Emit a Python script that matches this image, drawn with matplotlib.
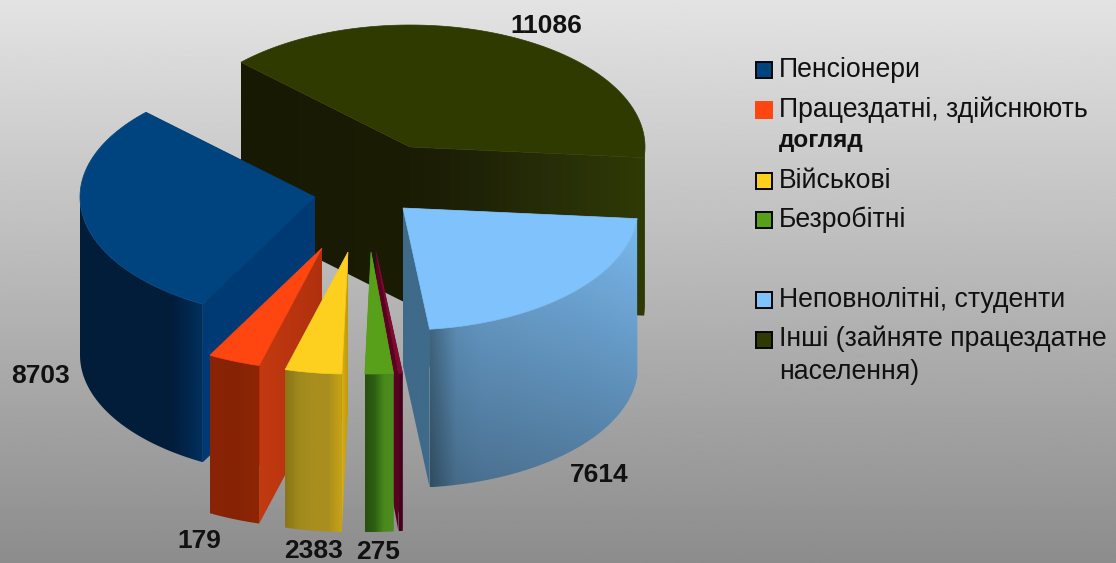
import numpy as np
import matplotlib
matplotlib.use('Agg')
import matplotlib.pyplot as plt
from matplotlib.colors import to_rgb
from matplotlib.patches import Polygon, Rectangle

plt.rcParams['font.family'] = ['Liberation Sans', 'DejaVu Sans']

# chart values
slice_names = ['Пенсіонери', 'Працездатні, здійснюють догляд', 'Військові', 'Безробітні',
               '', 'Неповнолітні, студенти', 'Інші (зайняте працездатне населення)']
slice_sizes = [105.5, 13, 14, 7, 1, 78.5, 141]  # degrees as seen in the picture
value_labels = ['8703', '179', '2383', '275', '', '7614', '11086']

# look of each slice
top_colors = ['#00447f', '#ff4510', '#fdd01f', '#58a01a', '#7e0a30', '#80c2fc', '#2f3a00']
wall_colors = [
    ['#011d3a'] * 7 + ['#01264c', '#00305e'],
    ['#8a2405', '#862305', '#8e2606'],
    ['#8a7418', '#a08a1e', '#a88e1f', '#a88e1e', '#c9a314'],
    ['#27500f', '#2f5f12', '#4a8a1c', '#4e8c20'],
    ['#45001a', '#45001a'],
    ['#4a7594', '#6aa2cf', '#70aadb', '#72acdc', '#74afe0', '#75b1e3', '#76b3e6', '#78b6ea', '#7ab9ee'],
    ['#2f3a00', '#2f3a00'],
]
start_cut_colors = [
    ['#1a1c04', '#1a1c04'],
    ['#8a2405', '#8a2405'],
    ['#8f7a1c', '#8f7a1c'],
    ['#3a6c16', '#3a6c16'],
    ['#48001c', '#5a0022'],
    ['#3f6a8a', '#3f6a8a'],
    ['#1a1c04', '#1e2206', '#252a07', '#2a3207', '#2f3a05'],
]
end_cut_colors = [
    ['#003a75', '#003a75'],
    ['#c23a10', '#b0300e'],
    ['#d8ae12', '#b8960f'],
    ['#4e8c20', '#4e8c20'],
    ['#5a0022', '#5a0022'],
    ['#3f6a8a', '#3f6a8a'],
    ['#171903', '#1a1c04'],
]
wall_shade = [(1, 1), (1, 1), (1, 1), (1, 1), (1, 1), (1.0, 0.66), (1, 1)]

# layout in picture pixels
apex_x = [315, 322, 348, 371, 376, 403, 410]
apex_y = [197, 248, 252, 252, 252, 208, 147]
rx, ry = 235, 122
depth = 158
first_angle = 136
draw_order = [6, 0, 5, 4, 3, 1, 2]

label_x = [41, 199, 314, 378, 0, 599, 546]
label_y = [376, 541, 551, 552, 0, 475, 26]

legend_text = ['Пенсіонери', 'Працездатні, здійснюють', 'догляд', 'Військові', 'Безробітні',
               'Неповнолітні, студенти', 'Інші (зайняте працездатне', 'населення)']
legend_text_y = [70, 110, 141, 181, 220, 300, 339, 372]
legend_box_slice = [0, 1, 2, 3, 5, 6]
legend_box_y = [70, 110, 181, 220, 300, 340]


def gradient_fill(ax, verts, colors, shade=(1, 1)):
    verts = np.array(verts)
    x0, x1 = verts[:, 0].min(), verts[:, 0].max()
    y0, y1 = verts[:, 1].min(), verts[:, 1].max()
    if x1 - x0 < 0.5:
        return
    rgb = np.array([to_rgb(c) for c in colors])
    t = np.linspace(0, 1, 128)
    stops = np.linspace(0, 1, len(colors))
    row = np.stack([np.interp(t, stops, rgb[:, i]) for i in range(3)], axis=1)
    img = np.repeat(row[np.newaxis, :, :], 64, axis=0)
    img = img * np.linspace(shade[0], shade[1], 64)[:, np.newaxis, np.newaxis]
    im = ax.imshow(np.clip(img, 0, 1), extent=(x0, x1, y1, y0), aspect='auto',
                   interpolation='bilinear', zorder=2)
    im.set_clip_path(Polygon(verts, transform=ax.transData))


def arc(i, a0, a1):
    a = np.radians(np.linspace(a0, a1, 120))
    return np.column_stack([apex_x[i] + rx * np.cos(a), apex_y[i] - ry * np.sin(a)])


fig = plt.figure(figsize=(11.16, 5.63), dpi=100)
ax = fig.add_axes([0, 0, 1, 1])

# background
bg = np.linspace(0.89, 0.55, 256)[:, np.newaxis]
ax.imshow(bg, cmap='gray', vmin=0, vmax=1, extent=(0, 1116, 563, 0), aspect='auto', zorder=0)

ends = first_angle + np.cumsum(slice_sizes)
starts = ends - np.array(slice_sizes)

for i in draw_order:
    a0, a1 = starts[i], ends[i]
    pts = arc(i, a0, a1)
    apex = np.array([apex_x[i], apex_y[i]])
    down = np.array([0, depth])

    # cut faces first, the wall and the top cover what is behind
    for p, cols in ((pts[0], start_cut_colors[i]), (pts[-1], end_cut_colors[i])):
        gradient_fill(ax, [apex, p, p + down, apex + down], cols)

    # front wall only
    lo, hi = max(a0, 180), min(a1, 360)
    if hi > lo:
        w = arc(i, lo, hi)
        gradient_fill(ax, np.vstack([w, (w + down)[::-1]]), wall_colors[i], wall_shade[i])

    ax.add_patch(Polygon(np.vstack([apex, pts]), closed=True, facecolor=top_colors[i],
                         edgecolor=top_colors[i], linewidth=0.5, zorder=3))

for x, y, s in zip(label_x, label_y, value_labels):
    if s:
        ax.text(x, y, s, ha='center', va='center', fontsize=19, fontweight='bold',
                color='#111111', zorder=5)

for s, y in zip(legend_text, legend_text_y):
    if s == 'догляд':
        ax.text(779, y, s, ha='left', va='center', fontsize=17.5, color='#111111',
                fontweight='bold', zorder=5)
    else:
        ax.text(779, y, s, ha='left', va='center', fontsize=19.2, color='#111111', zorder=5)

for i, y in zip(legend_box_slice, legend_box_y):
    edge = top_colors[i] if i == 1 else '#050505'
    ax.add_patch(Rectangle((756, y - 8), 16, 16, facecolor=top_colors[i], edgecolor=edge,
                           linewidth=1.4, zorder=5))

ax.set_xlim(0, 1116)
ax.set_ylim(563, 0)
ax.axis('off')
fig.savefig('out.png', dpi=100)
